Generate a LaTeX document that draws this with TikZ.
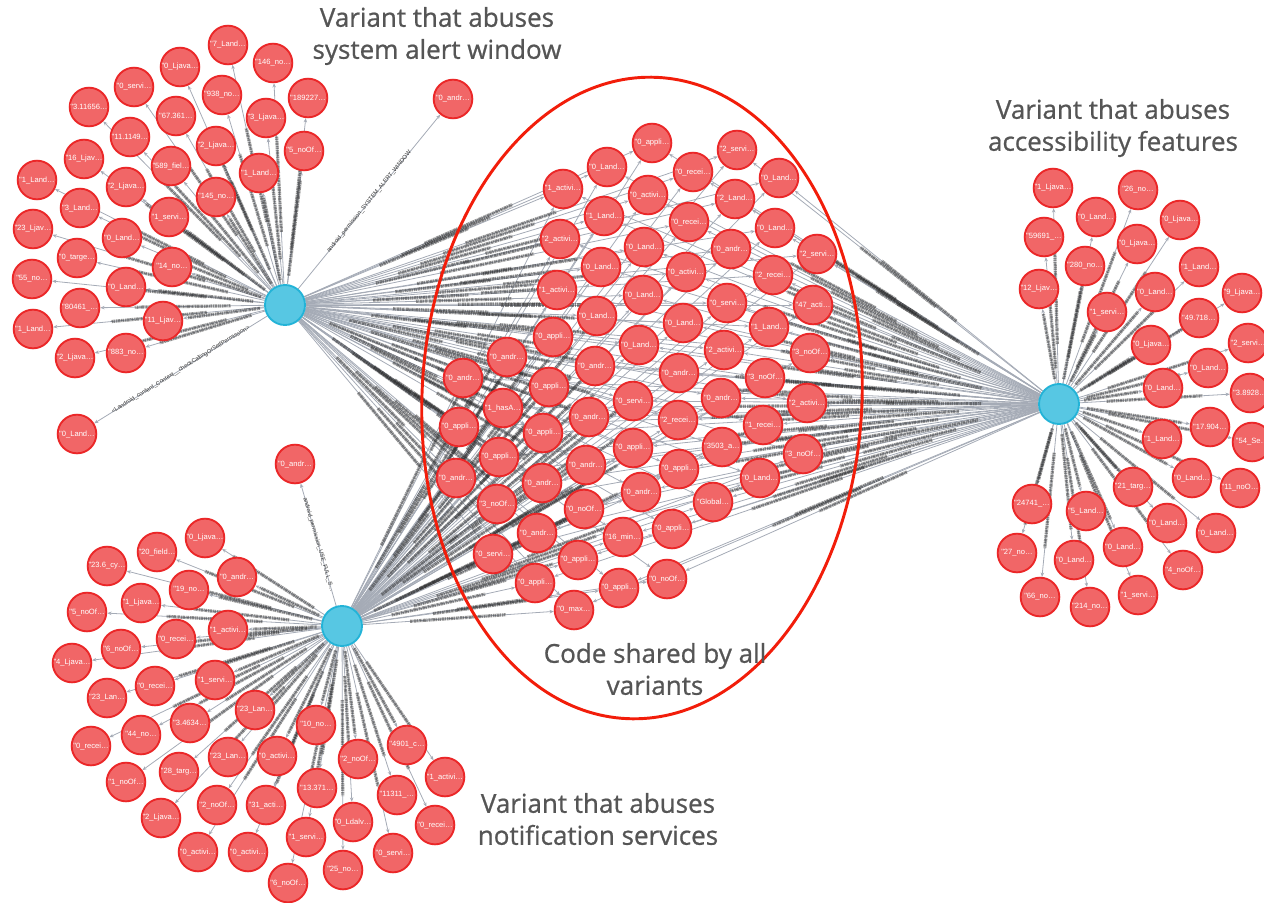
\documentclass[tikz,border=0pt]{standalone}
\usepackage{fontspec}
\setmainfont{Open Sans}
\newfontfamily\titlefont{Open Sans}[FakeBold=0.8]
\newfontfamily\nodefont{Liberation Sans}
\usetikzlibrary{calc,arrows.meta}
\definecolor{nodefill}{HTML}{F16667}
\definecolor{nodedraw}{HTML}{EB2728}
\definecolor{hubfill}{HTML}{57C7E3}
\definecolor{hubdraw}{HTML}{23B3D7}
\definecolor{edgegray}{HTML}{A5ABB6}
\definecolor{ringred}{HTML}{F21D0A}
\definecolor{titlegray}{HTML}{555555}
\pgfdeclarelayer{edges}
\pgfsetlayers{edges,main}
% dark band standing for a relationship caption, centred between the two nodes
\makeatletter
\newcommand\edgecap[2]{%
  \pgfpointdiff{\pgfpointanchor{#1}{center}}{\pgfpointanchor{#2}{center}}%
  \pgfmathsetmacro\capd{veclen(\the\pgf@x,\the\pgf@y)}%
  \pgfmathsetmacro\caps{max(19,\capd/2-36)}%
  \pgfmathsetmacro\capl{\capd-2*\caps}%
  \ifdim\capl pt>1pt
    \draw[capt,shorten <=\caps pt,shorten >=\caps pt] (#1.center) -- (#2.center);%
  \fi}
\makeatother
\begin{document}
\begin{tikzpicture}[x=0.75pt,y=-0.75pt,
  leaf/.style={circle,fill=nodefill,draw=nodedraw,line width=1.4pt,minimum size=29pt,
    inner sep=0pt,text=white,font=\nodefont\fontsize{5.7}{6}\selectfont},
  hub/.style={circle,fill=hubfill,draw=hubdraw,line width=1.4pt,minimum size=30pt,inner sep=0pt},
  link/.style={draw=edgegray,line width=0.6pt,-{Stealth[length=3.2pt,width=2.6pt]}},
  capt/.style={draw=black!85,line width=2.4pt,opacity=.5,
    dash pattern=on 1.3pt off .4pt on .7pt off .5pt on 2pt off .4pt on 1pt off .6pt},
  lbl/.style={font=\nodefont\fontsize{4.4}{5}\selectfont,text=black!80,inner sep=0.5pt},
  title/.style={text=titlegray,align=center,font=\titlefont\fontsize{19.5}{24}\selectfont},
  ring/.style={draw=ringred,line width=2.2pt}]
\useasboundingbox (0,0) rectangle (1264,903);
\clip (0,0) rectangle (1264,903);

% hubs
\node[hub] (h1) at (285,305) {};
\node[hub] (h2) at (342,626) {};
\node[hub] (h3) at (1059,404) {};

% system alert window variant
\node[leaf] (t1) at (228,45) {"7\_Land…};
\node[leaf] (t2) at (273,63) {"146\_no…};
\node[leaf] (t3) at (180,67) {"0\_Ljava…};
\node[leaf] (t4) at (308,98) {"189227…};
\node[leaf] (t5) at (134,87) {"0\_servi…};
\node[leaf] (t6) at (222,95) {"938\_no…};
\node[leaf] (t7) at (266,118) {"3\_Ljava…};
\node[leaf] (t8) at (89,107) {"3.11656…};
\node[leaf] (t9) at (176,116) {"67.361…};
\node[leaf] (t10) at (304,151) {"5\_noOf…};
\node[leaf] (t11) at (130,137) {"11.1149…};
\node[leaf] (t12) at (216,146) {"2\_Ljava…};
\node[leaf] (t13) at (259,173) {"1\_Land…};
\node[leaf] (t14) at (84,159) {"16\_Ljav…};
\node[leaf] (t15) at (171,166) {"589\_fiel…};
\node[leaf] (t16) at (37,180) {"1\_Land…};
\node[leaf] (t17) at (126,187) {"2\_Ljava…};
\node[leaf] (t18) at (216,197) {"145\_no…};
\node[leaf] (t19) at (80,208) {"3\_Land…};
\node[leaf] (t20) at (169,217) {"1\_servi…};
\node[leaf] (t21) at (33,229) {"23\_Ljav…};
\node[leaf] (t22) at (122,238) {"0\_Land…};
\node[leaf] (t23) at (77,258) {"0\_targe…};
\node[leaf] (t24) at (172,267) {"14\_no…};
\node[leaf] (t25) at (32,279) {"55\_no…};
\node[leaf] (t26) at (126,287) {"0\_Land…};
\node[leaf] (t27) at (80,308) {"80461\_…};
\node[leaf] (t28) at (163,321) {"11\_Ljav…};
\node[leaf] (t29) at (33,329) {"1\_Land…};
\node[leaf] (t30) at (75,358) {"2\_Ljava…};
\node[leaf] (t31) at (126,353) {"883\_no…};
\node[leaf] (t32) at (77,434) {"0\_Land…};
\node[leaf] (t33) at (453,99) {"0\_andr…};

% notification services variant
\node[leaf] (b1) at (295,464) {"0\_andr…};
\node[leaf] (b2) at (205,538) {"0\_Ljava…};
\node[leaf] (b3) at (157,552) {"20\_field…};
\node[leaf] (b4) at (107,566) {"23.6\_cy…};
\node[leaf] (b5) at (237,577) {"0\_andr…};
\node[leaf] (b6) at (189,590) {"19\_no…};
\node[leaf] (b7) at (141,603) {"1\_Ljava…};
\node[leaf] (b8) at (87,612) {"5\_noOf…};
\node[leaf] (b9) at (228,630) {"1\_activi…};
\node[leaf] (b10) at (176,639) {"0\_recei…};
\node[leaf] (b11) at (121,649) {"6\_noOf…};
\node[leaf] (b12) at (72,663) {"4\_Ljava…};
\node[leaf] (b13) at (107,698) {"23\_Lan…};
\node[leaf] (b14) at (155,686) {"0\_recei…};
\node[leaf] (b15) at (215,680) {"1\_servi…};
\node[leaf] (b16) at (255,710) {"23\_Lan…};
\node[leaf] (b17) at (190,723) {"3.4634…};
\node[leaf] (b18) at (141,735) {"44\_no…};
\node[leaf] (b19) at (91,746) {"0\_recei…};
\node[leaf] (b20) at (316,725) {"10\_no…};
\node[leaf] (b21) at (407,745) {"4901\_c…};
\node[leaf] (b22) at (228,757) {"23\_Lan…};
\node[leaf] (b23) at (277,756) {"0\_activi…};
\node[leaf] (b24) at (358,759) {"2\_noOf…};
\node[leaf] (b25) at (179,772) {"28\_targ…};
\node[leaf] (b26) at (126,782) {"1\_noOf…};
\node[leaf] (b27) at (445,777) {"1\_activi…};
\node[leaf] (b28) at (317,788) {"13.371…};
\node[leaf] (b29) at (397,795) {"11311\_…};
\node[leaf] (b30) at (217,805) {"2\_noOf…};
\node[leaf] (b31) at (266,805) {"31\_acti…};
\node[leaf] (b32) at (161,818) {"2\_Ljava…};
\node[leaf] (b33) at (353,822) {"0\_Ldalv…};
\node[leaf] (b34) at (435,825) {"0\_recei…};
\node[leaf] (b35) at (306,837) {"1\_servi…};
\node[leaf] (b36) at (198,852) {"0\_activi…};
\node[leaf] (b37) at (248,852) {"0\_activi…};
\node[leaf] (b38) at (393,853) {"0\_servi…};
\node[leaf] (b39) at (343,870) {"25\_no…};
\node[leaf] (b40) at (288,883) {"6\_noOf…};

% accessibility variant
\node[leaf] (r1) at (1053,188) {"1\_Ljava…};
\node[leaf] (r2) at (1138,190) {"26\_no…};
\node[leaf] (r3) at (1096,217) {"0\_Land…};
\node[leaf] (r4) at (1180,220) {"0\_Ljava…};
\node[leaf] (r5) at (1044,237) {"59691\_…};
\node[leaf] (r6) at (1137,244) {"0\_Ljava…};
\node[leaf] (r7) at (1085,266) {"280\_no…};
\node[leaf] (r8) at (1199,267) {"1\_Land…};
\node[leaf] (r9) at (1039,289) {"12\_Ljav…};
\node[leaf] (r10) at (1155,292) {"0\_Land…};
\node[leaf] (r11) at (1242,293) {"9\_Ljava…};
\node[leaf] (r12) at (1107,312) {"1\_servi…};
\node[leaf] (r13) at (1199,318) {"49.718…};
\node[leaf] (r14) at (1151,345) {"0\_Ljava…};
\node[leaf] (r15) at (1248,343) {"2\_servi…};
\node[leaf] (r16) at (1208,368) {"0\_Land…};
\node[leaf] (r17) at (1163,388) {"0\_Land…};
\node[leaf] (r18) at (1250,393) {"3.8928…};
\node[leaf] (r19) at (1210,427) {"17.904…};
\node[leaf] (r20) at (1162,439) {"1\_Land…};
\node[leaf] (r21) at (1252,442) {"54\_Se…};
\node[leaf] (r22) at (1192,478) {"0\_Land…};
\node[leaf] (r23) at (1240,488) {"11\_noO…};
\node[leaf] (r24) at (1133,487) {"21\_targ…};
\node[leaf] (r25) at (1032,504) {"24741\_…};
\node[leaf] (r26) at (1086,511) {"5\_Land…};
\node[leaf] (r27) at (1167,523) {"0\_Land…};
\node[leaf] (r28) at (1216,533) {"0\_Land…};
\node[leaf] (r29) at (1017,553) {"27\_no…};
\node[leaf] (r30) at (1074,560) {"0\_Land…};
\node[leaf] (r31) at (1123,547) {"0\_Land…};
\node[leaf] (r32) at (1183,570) {"4\_noOf…};
\node[leaf] (r33) at (1040,597) {"66\_no…};
\node[leaf] (r34) at (1090,607) {"214\_no…};
\node[leaf] (r35) at (1138,595) {"1\_servi…};

% shared code
\node[leaf] (c1) at (652,143) {"0\_appli…};
\node[leaf] (c2) at (737,150) {"2\_servi…};
\node[leaf] (c3) at (607,167) {"0\_Land…};
\node[leaf] (c4) at (693,172) {"0\_recei…};
\node[leaf] (c5) at (779,178) {"0\_Land…};
\node[leaf] (c6) at (563,189) {"1\_activi…};
\node[leaf] (c7) at (648,195) {"0\_activi…};
\node[leaf] (c8) at (735,199) {"2\_Land…};
\node[leaf] (c9) at (604,216) {"1\_Land…};
\node[leaf] (c10) at (689,222) {"0\_recei…};
\node[leaf] (c11) at (775,228) {"0\_Land…};
\node[leaf] (c12) at (560,239) {"2\_activi…};
\node[leaf] (c13) at (644,247) {"0\_Land…};
\node[leaf] (c14) at (731,249) {"0\_andr…};
\node[leaf] (c15) at (817,254) {"2\_servi…};
\node[leaf] (c16) at (601,267) {"0\_Land…};
\node[leaf] (c17) at (686,272) {"0\_activi…};
\node[leaf] (c18) at (773,275) {"2\_recei…};
\node[leaf] (c19) at (557,290) {"1\_activi…};
\node[leaf] (c20) at (643,295) {"0\_Land…};
\node[leaf] (c21) at (727,303) {"0\_servi…};
\node[leaf] (c22) at (813,305) {"47\_acti…};
\node[leaf] (c23) at (597,316) {"0\_Land…};
\node[leaf] (c24) at (683,323) {"0\_Land…};
\node[leaf] (c25) at (769,327) {"1\_Land…};
\node[leaf] (c26) at (553,337) {"0\_appli…};
\node[leaf] (c27) at (639,345) {"0\_Land…};
\node[leaf] (c28) at (724,350) {"2\_activi…};
\node[leaf] (c29) at (810,353) {"3\_noOf…};
\node[leaf] (c30) at (507,357) {"0\_andr…};
\node[leaf] (c31) at (595,366) {"0\_andr…};
\node[leaf] (c32) at (679,373) {"0\_andr…};
\node[leaf] (c33) at (765,378) {"3\_noOf…};
\node[leaf] (c34) at (463,378) {"0\_andr…};
\node[leaf] (c35) at (549,387) {"0\_appli…};
\node[leaf] (c36) at (721,398) {"0\_andr…};
\node[leaf] (c37) at (807,403) {"2\_activi…};
\node[leaf] (c38) at (503,408) {"1\_hasA…};
\node[leaf] (c39) at (633,401) {"0\_servi…};
\node[leaf] (c40) at (589,417) {"0\_andr…};
\node[leaf] (c41) at (678,420) {"2\_recei…};
\node[leaf] (c42) at (763,425) {"1\_recei…};
\node[leaf] (c43) at (459,427) {"0\_appli…};
\node[leaf] (c44) at (543,433) {"0\_appli…};
\node[leaf] (c45) at (633,448) {"0\_appli…};
\node[leaf] (c46) at (722,447) {"3503\_a…};
\node[leaf] (c47) at (803,454) {"3\_noOf…};
\node[leaf] (c48) at (499,457) {"0\_appli…};
\node[leaf] (c49) at (586,465) {"0\_andr…};
\node[leaf] (c50) at (679,469) {"0\_appli…};
\node[leaf] (c51) at (760,478) {"0\_Land…};
\node[leaf] (c52) at (456,478) {"0\_andr…};
\node[leaf] (c53) at (542,483) {"0\_andr…};
\node[leaf] (c54) at (641,492) {"0\_andr…};
\node[leaf] (c55) at (713,502) {"Global…};
\node[leaf] (c56) at (497,504) {"3\_noOf…};
\node[leaf] (c57) at (584,509) {"0\_noOf…};
\node[leaf] (c58) at (537,533) {"0\_andr…};
\node[leaf] (c59) at (623,537) {"16\_min…};
\node[leaf] (c60) at (672,529) {"0\_appli…};
\node[leaf] (c61) at (493,554) {"0\_servi…};
\node[leaf] (c62) at (578,560) {"0\_appli…};
\node[leaf] (c63) at (667,579) {"0\_noOf…};
\node[leaf] (c64) at (535,583) {"0\_appli…};
\node[leaf] (c65) at (619,588) {"0\_appli…};
\node[leaf] (c66) at (574,610) {"0\_max…};

% group outline and titles
\draw[ring,rotate around={-2.7:(642,398)}] (642,398) ellipse [x radius=220, y radius=321];
\node[title] (ttl1) at (437,36) {Variant that abuses\\system alert window};
\node[title] (ttl2) at (1113,128) {Variant that abuses\\accessibility features};
\node[title] (ttl3) at (655,669) {Code shared by all\\variants};
\node[title] (ttl4) at (598,819) {Variant that abuses\\notification services};

% relationships
\begin{pgfonlayer}{edges}
  \foreach \i in {1,...,31} {\draw[link] (h1) -- (t\i);}
  \draw[link] (h1) -- node[sloped,lbl] {<Landroid\_content\_Context\_\_checkCallingOrSelfPermission>} (t32);
  \draw[link] (h1) -- node[sloped,lbl] {android\_permission\_SYSTEM\_ALERT\_WINDOW} (t33);
  \draw[link] (h2) -- node[sloped,lbl] {android\_permission\_USE\_FULL\_S…} (b1);
  \foreach \i in {2,...,40} {\draw[link] (h2) -- (b\i);}
  \foreach \i in {1,...,35} {\draw[link] (h3) -- (r\i);}
  \foreach \i in {1,...,66} {\draw[link] (h1) -- (c\i); \draw[link] (h2) -- (c\i); \draw[link] (h3) -- (c\i);}
  \foreach \i in {1,...,31} {\edgecap{h1}{t\i}}
  \foreach \i in {2,...,40} {\edgecap{h2}{b\i}}
  \foreach \i in {1,...,35} {\edgecap{h3}{r\i}}
  \foreach \i in {1,...,66} {\edgecap{h1}{c\i}\edgecap{h2}{c\i}\edgecap{h3}{c\i}}
\end{pgfonlayer}
\end{tikzpicture}
\end{document}
